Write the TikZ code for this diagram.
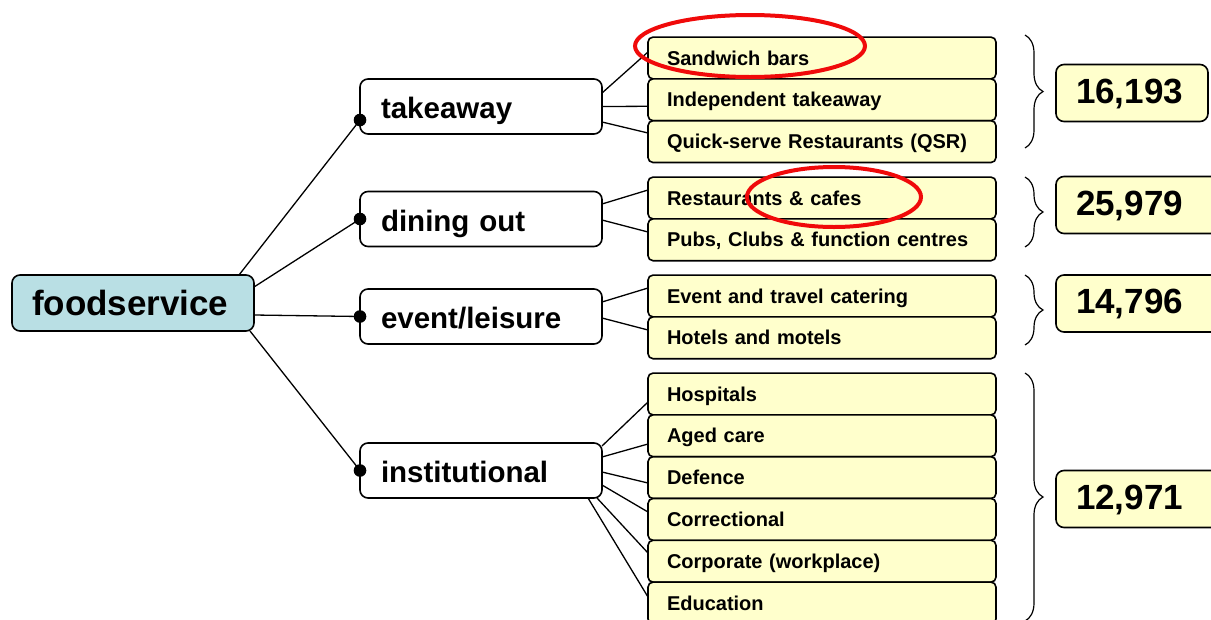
\documentclass[tikz,border=0pt]{standalone}
\usepackage{fontspec}
\setmainfont{Liberation Sans}
\usetikzlibrary{positioning,decorations.pathreplacing}
\definecolor{rootfill}{RGB}{185,223,228}
\definecolor{leaffill}{RGB}{255,255,204}
\definecolor{ringred}{RGB}{240,10,10}
\tikzset{
  root/.style={rectangle,rounded corners=8pt,draw=black,line width=1.6pt,fill=rootfill,outer sep=0pt,inner xsep=20pt,text width=202pt,text height=28.5pt,text depth=4.5pt,minimum height=56pt,align=left,font=\fontsize{35}{40}\selectfont\bfseries},
  group/.style={rectangle,rounded corners=8pt,draw=black,line width=1.6pt,fill=white,outer sep=0pt,inner xsep=21pt,text width=200pt,text height=25.9pt,text depth=1.9pt,minimum height=55pt,align=left,font=\fontsize{29.5}{34}\selectfont\bfseries},
  leaf/.style={rectangle,rounded corners=5pt,draw=black,line width=1.6pt,fill=leaffill,outer sep=0pt,inner xsep=19pt,text width=310pt,text height=16.5pt,text depth=2.5pt,minimum height=41.8pt,align=left,font=\fontsize{20}{24}\selectfont\bfseries},
  total/.style={rectangle,rounded corners=8pt,draw=black,line width=1.6pt,fill=leaffill,outer sep=0pt,inner xsep=20pt,text width=112pt,text height=26.5pt,text depth=6.5pt,minimum height=57pt,align=left,anchor=west,font=\fontsize{35}{40}\selectfont\bfseries},
  link/.style={line width=1.3pt},
  brace/.style={decorate,decoration={brace,amplitude=18pt},line width=1.2pt},
  ring/.style={draw=ringred,line width=4pt}
}
\begin{document}
\begin{tikzpicture}[x=1pt,y=-1pt]
  \useasboundingbox (0,0) rectangle (1211,619);
  % root and groups
  \node[root] (food) at (133,303) {foodservice};
  \node[group] (take) at (481,106.5) {takeaway};
  \node[group] (dine) at (481,219) {dining out};
  \node[group] (event) at (481,316.5) {event/leisure};
  \node[group] (inst) at (481,470.5) {institutional};
  % sectors
  \node[leaf] (sand) at (822,58) {Sandwich bars};
  \node[leaf,below=0pt of sand] (indep) {Independent takeaway};
  \node[leaf,below=0pt of indep] (qsr) {Quick-serve Restaurants (QSR)};
  \node[leaf] (rest) at (822,198) {Restaurants \& cafes};
  \node[leaf,below=0pt of rest] (pubs) {Pubs, Clubs \& function centres};
  \node[leaf] (travel) at (822,296) {Event and travel catering};
  \node[leaf,below=0pt of travel] (hotel) {Hotels and motels};
  \node[leaf] (hosp) at (822,394) {Hospitals};
  \node[leaf,below=0pt of hosp] (aged) {Aged care};
  \node[leaf,below=0pt of aged] (defence) {Defence};
  \node[leaf,below=0pt of defence] (correct) {Correctional};
  \node[leaf,below=0pt of correct] (corp) {Corporate (workplace)};
  \node[leaf,below=0pt of corp] (edu) {Education};
  % totals
  \node[total] (ttake) at (1056,93) {16,193};
  \node[total,text width=140pt] (tdine) at (1056,205) {25,979};
  \node[total,text width=140pt] (tevent) at (1056,303.5) {14,796};
  \node[total,text width=140pt] (tinst) at (1056,499) {12,971};
  % root to groups
  \coordinate (ktake) at ([yshift=-13.5pt]take.west);
  \draw[link] ([xshift=-15pt]food.north east) -- (ktake);
  \draw[link] ([yshift=-12pt]food.north east) -- (dine.west);
  \draw[link] ([yshift=-12pt]food.east) -- (event.west);
  \draw[link] ([xshift=-4pt]food.south east) -- (inst.west);
  \foreach \k in {ktake,dine.west,event.west,inst.west}
    \fill (\k) circle[radius=6.3pt];
  % groups to sectors
  \draw[link] ([yshift=13.5pt]take.east) -- ([yshift=6pt]sand.west);
  \draw[link] (take.east) -- ([yshift=-6.5pt]indep.west);
  \draw[link] ([yshift=-15.5pt]take.east) -- ([yshift=8.6pt]qsr.west);
  \draw[link] ([yshift=15pt]dine.east) -- ([yshift=8pt]rest.west);
  \draw[link] ([yshift=-1pt]dine.east) -- ([yshift=7.8pt]pubs.west);
  \draw[link] ([yshift=14.5pt]event.east) -- ([yshift=8pt]travel.west);
  \draw[link] ([yshift=-1.5pt]event.east) -- ([yshift=7.8pt]hotel.west);
  \draw[link] ([yshift=-3pt]inst.north east) -- ([yshift=-8pt]hosp.west);
  \draw[link] ([yshift=13.5pt]inst.east) -- ([yshift=-8.2pt]aged.west);
  \draw[link] ([yshift=-1.5pt]inst.east) -- ([yshift=-5.4pt]defence.west);
  \draw[link] ([yshift=-14.5pt]inst.east) -- ([yshift=7.4pt]correct.west);
  \draw[link] ([xshift=-5pt]inst.south east) -- ([yshift=8.2pt]corp.west);
  \draw[link] ([xshift=-14pt]inst.south east) -- ([yshift=6pt]edu.west);
  % braces
  \draw[brace] (1025,35) -- (1025,148);
  \draw[brace] (1025,177) -- (1025,247);
  \draw[brace] (1025,275) -- (1025,345);
  \draw[brace] (1025,373) -- (1025,621);
  % red rings
  \draw[ring] (750,46) ellipse [x radius=115, y radius=31];
  \draw[ring] (834,197) ellipse [x radius=87, y radius=30];
\end{tikzpicture}
\end{document}
